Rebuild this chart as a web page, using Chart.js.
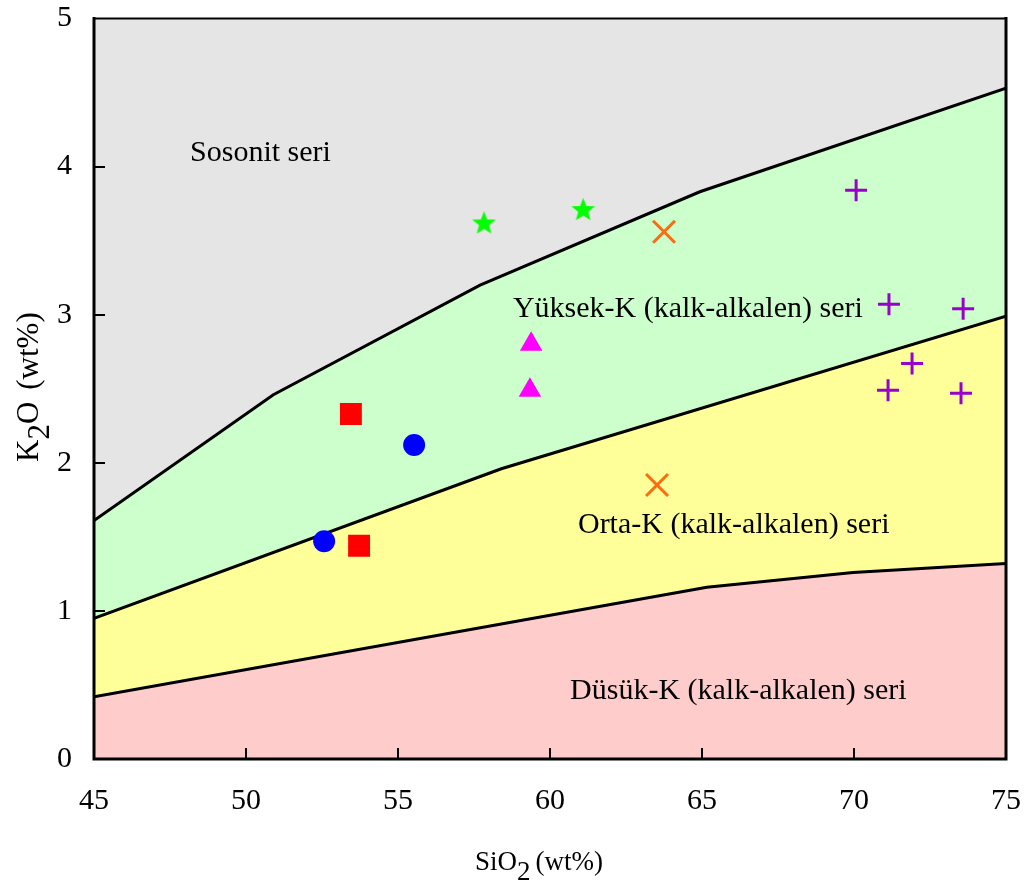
<!DOCTYPE html>
<html>
<head>
<meta charset="utf-8">
<script src="https://cdn.jsdelivr.net/npm/chart.js@4.4.1/dist/chart.umd.min.js"></script>
<style>
  html,body{margin:0;padding:0;background:#fff;}
  #wrap{position:relative;width:1027px;height:895px;}
</style>
</head>
<body>
<div id="wrap"><canvas id="c" width="1027" height="895"></canvas></div>
<script>
// ---- Sample data (SiO2 wt%, K2O wt%) ----
const circleSiO2   = [55.53, 52.57];
const circleK2O    = [2.12, 1.47];
const squareSiO2   = [53.45, 53.72];
const squareK2O    = [2.33, 1.44];
const triangleSiO2 = [59.38, 59.34];
const triangleK2O  = [2.80, 2.49];
const starSiO2     = [57.83, 61.09];
const starK2O      = [3.62, 3.71];
const xSiO2        = [63.75, 63.52];
const xK2O         = [3.56, 1.85];
const plusSiO2     = [70.07, 71.15, 73.59, 71.91, 71.12, 73.52];
const plusK2O      = [3.84, 3.07, 3.04, 2.67, 2.49, 2.47];

// ---- Field boundaries ----
const shoshoniteLineSiO2 = [45, 50.9, 57.7, 64.93, 75];
const shoshoniteLineK2O  = [1.61, 2.46, 3.20, 3.83, 4.53];
const highKLineSiO2      = [45, 58.4, 75];
const highKLineK2O       = [0.95, 1.96, 2.99];
const lowKLineSiO2       = [45, 65.16, 69.97, 75];
const lowKLineK2O        = [0.42, 1.16, 1.26, 1.32];

// ---- Field labels ----
const fieldLabels = ["Sosonit seri", "Yüksek-K (kalk-alkalen) seri", "Orta-K (kalk-alkalen) seri", "Düsük-K (kalk-alkalen) seri"];
const fieldLabelSiO2 = [48.16, 58.78, 60.92, 60.66];
const fieldLabelK2O  = [4.09, 3.04, 1.58, 0.46];

// ---- Axes ----
const xMin = 45, xMax = 75, xStep = 5;
const yMin = 0, yMax = 5, yStep = 1;

function pts(xs, ys){ return xs.map((x,i)=>({x:x, y:ys[i]})); }

function makeStar(r, color){
  const s = Math.ceil(r*2)+2;
  const c = document.createElement('canvas');
  c.width = s; c.height = s;
  const g = c.getContext('2d');
  g.fillStyle = color;
  g.beginPath();
  for(let i=0;i<10;i++){
    const a = -Math.PI/2 + i*Math.PI/5;
    const rr = (i%2) ? r*0.42 : r;
    g.lineTo(s/2 + rr*Math.cos(a), s/2 + rr*Math.sin(a) + r*0.05);
  }
  g.closePath(); g.fill();
  return c;
}
const starImg = makeStar(12.5, '#00ff00');

const FONT = '"Liberation Serif","Times New Roman",Times,serif';

const decorPlugin = {
  id:'decor',
  afterDatasetsDraw(chart){
    const ctx = chart.ctx, a = chart.chartArea;
    const xs = chart.scales.x, ys = chart.scales.y;
    ctx.save();
    // field labels
    ctx.fillStyle = '#000';
    ctx.font = '30px ' + FONT;
    ctx.textAlign = 'left';
    ctx.textBaseline = 'middle';
    fieldLabels.forEach((t,i)=>{
      ctx.fillText(t, xs.getPixelForValue(fieldLabelSiO2[i]), ys.getPixelForValue(fieldLabelK2O[i]));
    });
    // frame
    ctx.strokeStyle = '#000';
    ctx.lineCap = 'square';
    ctx.lineWidth = 3;
    ctx.beginPath();
    ctx.moveTo(a.left, a.top); ctx.lineTo(a.left, a.bottom); ctx.lineTo(a.right, a.bottom); ctx.lineTo(a.right, a.top);
    ctx.stroke();
    ctx.lineWidth = 2;
    ctx.beginPath(); ctx.moveTo(a.left, a.top); ctx.lineTo(a.right, a.top); ctx.stroke();
    // inward ticks
    ctx.lineWidth = 2; ctx.lineCap = 'butt';
    ctx.beginPath();
    for(let v = xMin + xStep; v < xMax; v += xStep){
      const p = Math.round(xs.getPixelForValue(v));
      ctx.moveTo(p, a.bottom); ctx.lineTo(p, a.bottom - 11);
    }
    for(let v = yMin + yStep; v < yMax; v += yStep){
      const p = Math.round(ys.getPixelForValue(v));
      ctx.moveTo(a.left, p); ctx.lineTo(a.left + 11, p);
    }
    ctx.stroke();
    // x axis title
    ctx.font = '27px ' + FONT;
    ctx.textBaseline = 'alphabetic';
    ctx.textAlign = 'left';
    let x0 = 475, yb = 870;
    ctx.fillText('SiO', x0, yb); x0 += ctx.measureText('SiO').width;
    ctx.fillText('2', x0, yb + 10); x0 += ctx.measureText('2').width + 5;
    ctx.fillText('(wt%)', x0, yb);
    // y axis title (rotated)
    ctx.save();
    ctx.translate(38, 462);
    ctx.rotate(-Math.PI/2);
    ctx.font = '31px ' + FONT;
    let t0 = 0;
    ctx.fillText('K', t0, 0); t0 += ctx.measureText('K').width;
    ctx.fillText('2', t0, 11); t0 += ctx.measureText('2').width;
    ctx.fillText('O', t0, 0); t0 += ctx.measureText('O').width + 12;
    ctx.fillText('(wt%)', t0, 0);
    ctx.restore();
    ctx.restore();
  }
};

const lineCommon = {showLine:true, pointRadius:0, borderColor:'#000', borderWidth:3, tension:0};

new Chart(document.getElementById('c'), {
  type:'scatter',
  data:{
    datasets:[
      {data:pts(circleSiO2, circleK2O), pointStyle:'circle', pointRadius:11, backgroundColor:'#0000ff', borderColor:'#0000ff', borderWidth:0},
      {data:pts(squareSiO2, squareK2O), pointStyle:'rect', pointRadius:15.5, backgroundColor:'#ff0000', borderColor:'#ff0000', borderWidth:0},
      {data:pts(triangleSiO2, triangleK2O), pointStyle:'triangle', pointRadius:13, backgroundColor:'#ff00ff', borderColor:'#ff00ff', borderWidth:0},
      {data:pts(starSiO2, starK2O), pointStyle:starImg, pointRadius:13},
      {data:pts(xSiO2, xK2O), pointStyle:'crossRot', pointRadius:15.5, borderColor:'#ff6a10', borderWidth:3},
      {data:pts(plusSiO2, plusK2O), pointStyle:'cross', pointRadius:11, borderColor:'#9900cc', borderWidth:3},
      Object.assign({data:pts(lowKLineSiO2, lowKLineK2O), fill:'origin', backgroundColor:'#ffcccc'}, lineCommon),
      Object.assign({data:pts(highKLineSiO2, highKLineK2O), fill:6, backgroundColor:'#ffff99'}, lineCommon),
      Object.assign({data:pts(shoshoniteLineSiO2, shoshoniteLineK2O), fill:7, backgroundColor:'#ccffcc'}, lineCommon),
      Object.assign({data:pts(shoshoniteLineSiO2, shoshoniteLineK2O), fill:'end', backgroundColor:'#e5e5e5'}, lineCommon, {borderWidth:0, borderColor:'rgba(0,0,0,0)'})
    ]
  },
  options:{
    responsive:false, animation:false,
    layout:{padding:{left:0, top:15, right:21, bottom:0}},
    plugins:{legend:{display:false}, tooltip:{enabled:false}},
    scales:{
      x:{type:'linear', min:xMin, max:xMax,
         ticks:{stepSize:xStep, padding:24, color:'#000', font:{family:FONT, size:30, lineHeight:1.2}},
         grid:{display:false, drawTicks:false}, border:{display:false},
         afterFit(s){ s.height = 136; s.paddingLeft = 0; s.paddingRight = 0; }},
      y:{type:'linear', min:yMin, max:yMax,
         ticks:{stepSize:yStep, padding:22, color:'#000', font:{family:FONT, size:30, lineHeight:1.2}},
         grid:{display:false, drawTicks:false}, border:{display:false},
         afterFit(s){ s.width = 94; s.paddingTop = 0; s.paddingBottom = 0; }}
    }
  },
  plugins:[decorPlugin]
});
</script>
</body>
</html>
